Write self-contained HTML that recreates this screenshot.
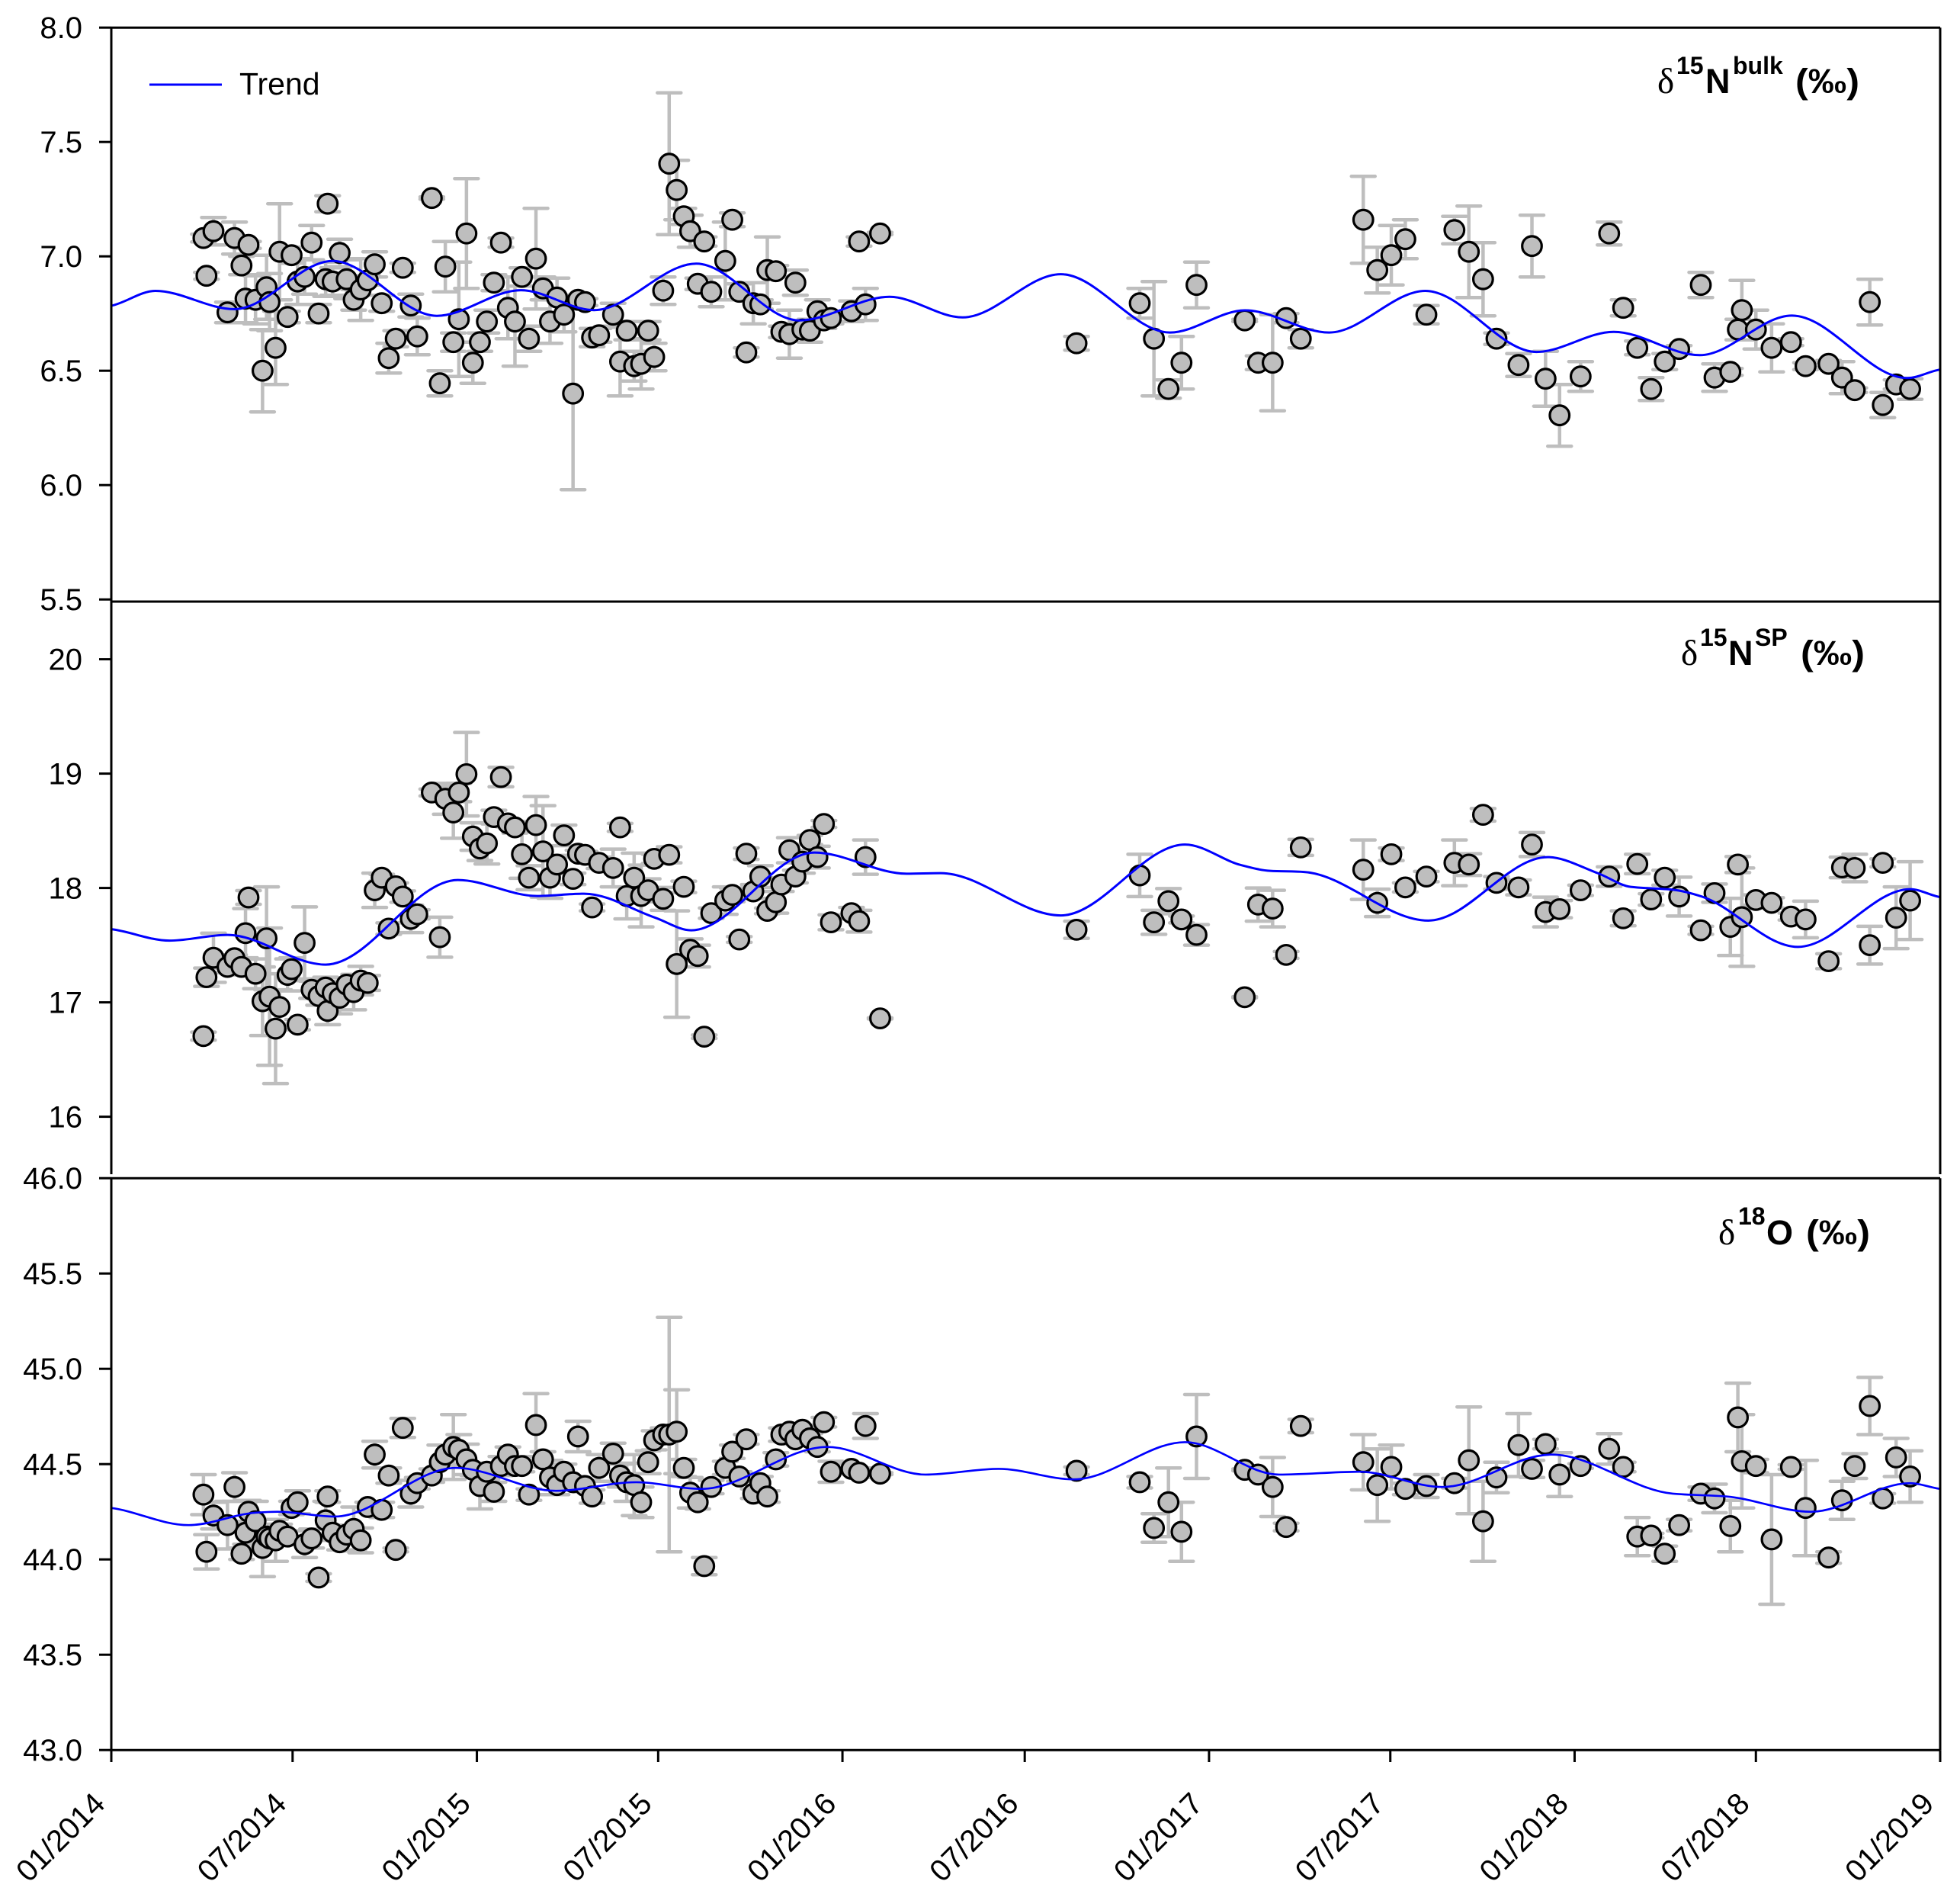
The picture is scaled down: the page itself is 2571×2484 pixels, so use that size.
<!DOCTYPE html>
<html lang="en">
<head>
<meta charset="utf-8">
<title>Isotope time series</title>
<style>
html,body{margin:0;padding:0;background:#fff;}
svg{display:block;font-family:"Liberation Sans",Arial,sans-serif;}
</style>
</head>
<body>
<svg id="chart" xmlns="http://www.w3.org/2000/svg" width="2571" height="2484" viewBox="0 0 2571 2484">
  <rect x="0" y="0" width="2571" height="2484" fill="#fff"/>
  <g id="panels"></g>
  <g>
    <line x1="196" y1="111" x2="291" y2="111" stroke="#0000ff" stroke-width="3"/>
    <text x="314" y="124" font-size="41" fill="#000">Trend</text>
  </g>
  <g fill="#000" font-weight="bold">
    <text x="2174" y="122" font-size="47" font-weight="normal" font-family="Liberation Serif, serif">δ</text>
    <text x="2199" y="97" font-size="32">15</text>
    <text x="2237" y="122" font-size="45">N</text>
    <text x="2273" y="97" font-size="32">bulk</text>
    <text x="2355" y="122" font-size="45" textLength="84" lengthAdjust="spacingAndGlyphs">(‰)</text>
  </g>
  <g fill="#000" font-weight="bold">
    <text x="2205" y="872" font-size="47" font-weight="normal" font-family="Liberation Serif, serif">δ</text>
    <text x="2230" y="847" font-size="32">15</text>
    <text x="2267" y="872" font-size="45">N</text>
    <text x="2302" y="847" font-size="32">SP</text>
    <text x="2362" y="872" font-size="45" textLength="84" lengthAdjust="spacingAndGlyphs">(‰)</text>
  </g>
  <g fill="#000" font-weight="bold">
    <text x="2254" y="1632" font-size="47" font-weight="normal" font-family="Liberation Serif, serif">δ</text>
    <text x="2280" y="1606" font-size="32">18</text>
    <text x="2317" y="1632" font-size="45">O</text>
    <text x="2369" y="1632" font-size="45" textLength="84" lengthAdjust="spacingAndGlyphs">(‰)</text>
  </g>
</svg>
<script>
const sampleDays = [
92,95,102,116,123,130,134,137,144,151,
155,158,164,168,176,180,186,193,200,207,
214,216,221,228,235,242,249,256,263,270,
277,284,291,299,305.5,320,328,333.5,341.5,347,
354.6,361,368,375,382,389,396,403,410,417,
424,431,438,445,452,461,466,473,480,487,
501,508,514.6,522,529,536,542,551,557,564.5,
571.6,578,585.5,592,599,613,620,627,634,641,
648,655,663.5,669,677,683,690,697.5,705,711.5,
718.5,739,746.6,753,767.6,963.7,1026.8,1041,1055.5,1068.5,
1083.5,1131.6,1145,1159.5,1173,1187.6,1250,1264,1278,1292,
1313,1341,1355.4,1369.6,1383,1405,1418.4,1432,1446,1467,
1495.5,1509.5,1523.6,1537.4,1551,1565.4,1587,1600.7,1616.5,1624,
1628,1642,1657.7,1677,1691.6,1714.6,1728,1740.7,1755.7,1768.7,
1782,1796];

const bulkValues = [
7.08,6.915,7.11,6.755,7.08,6.96,6.815,7.05,6.81,6.50,
6.865,6.80,6.60,7.02,6.735,7.005,6.89,6.91,7.06,6.75,
6.90,7.23,6.89,7.015,6.90,6.81,6.855,6.895,6.965,6.795,
6.555,6.64,6.95,6.785,6.65,7.255,6.445,6.955,6.625,6.725,
7.10,6.535,6.625,6.715,6.885,7.06,6.775,6.715,6.91,6.64,
6.99,6.86,6.715,6.82,6.745,6.40,6.81,6.80,6.645,6.655,
6.745,6.54,6.675,6.52,6.53,6.675,6.56,6.85,7.405,7.29,
7.175,7.11,6.88,7.065,6.845,6.98,7.16,6.845,6.58,6.795,
6.79,6.94,6.935,6.67,6.66,6.885,6.68,6.675,6.76,6.72,
6.73,6.76,7.065,6.79,7.10,6.62,6.795,6.64,6.42,6.535,
6.875,6.72,6.535,6.535,6.73,6.64,7.16,6.94,7.005,7.075,
6.745,7.115,7.02,6.90,6.64,6.525,7.045,6.465,6.305,6.475,
7.10,6.775,6.60,6.42,6.54,6.595,6.875,6.47,6.495,6.68,
6.765,6.68,6.60,6.625,6.52,6.53,6.47,6.415,6.80,6.35,
6.44,6.42];
const bulkErrors = [
.017,.015,.06,.045,.07,.04,.105,.015,.105,.18,
.14,.125,.16,.21,.025,.035,.10,.075,.075,.04,
.075,.035,.06,.06,.085,.045,.135,.02,.055,.035,
.065,.035,.02,.05,.08,.005,.055,.11,.04,.25,
.24,.09,.04,.05,.035,.02,.135,.195,.04,.055,
.22,.05,.095,.085,.075,.42,.02,.015,.04,.03,
.05,.15,.04,.065,.11,.04,.06,.06,.31,.13,
.035,.07,.025,.02,.065,.17,.03,.035,.02,.09,
.02,.145,.025,.025,.105,.055,.035,.05,.05,.035,
.025,.045,.02,.07,.005,.03,.065,.25,.04,.115,
.10,.005,.03,.21,.02,.04,.19,.10,.13,.085,
.04,.06,.20,.16,.025,.05,.135,.12,.135,.065,
.05,.035,.03,.05,.035,.015,.055,.06,.015,.045,
.13,.085,.105,.015,.015,.015,.07,.01,.10,.055,
.02,.045];
const bulkTrendDays = [0,44,123,221,325,409,482,584,687,777,850,948,1057,1132,1216,1312,1423,1500,1586,1678,1793,1826];
const bulkTrendValues = [6.784,6.849,6.769,6.98,6.74,6.852,6.765,6.968,6.72,6.823,6.733,6.922,6.667,6.764,6.667,6.849,6.582,6.67,6.568,6.741,6.468,6.505];
const bulkTicks = [8.0,7.5,7.0,6.5,6.0,5.5];
const bulkTickLabels = ["8.0","7.5","7.0","6.5","6.0","5.5"];

const spValues = [
16.705,17.22,17.39,17.31,17.386,17.31,17.605,17.917,17.25,17.01,
17.56,17.05,16.77,16.96,17.24,17.29,16.805,17.52,17.11,17.055,
17.13,16.925,17.08,17.04,17.155,17.09,17.19,17.17,17.98,18.09,
17.645,18.015,17.925,17.73,17.77,18.835,17.57,18.78,18.66,18.835,
18.995,18.45,18.345,18.39,18.62,18.97,18.565,18.53,18.295,18.09,
18.55,18.32,18.09,18.205,18.46,18.08,18.30,18.29,17.83,18.22,
18.175,18.53,17.93,18.09,17.93,17.98,18.255,17.905,18.29,17.335,
18.01,17.46,17.405,16.70,17.78,17.89,17.94,17.55,18.30,17.97,
18.10,17.80,17.875,18.03,18.33,18.10,18.23,18.42,18.27,18.56,
17.70,17.78,17.71,18.27,16.86,17.635,18.11,17.70,17.885,17.725,
17.59,17.045,17.855,17.82,17.415,18.355,18.16,17.87,18.295,18.005,
18.10,18.22,18.205,18.64,18.045,18.005,18.38,17.79,17.815,17.98,
18.10,17.735,18.21,17.90,18.09,17.925,17.63,17.955,17.66,18.205,
17.745,17.895,17.87,17.75,17.725,17.36,18.18,18.175,17.50,18.22,
17.74,17.89];
const spErrors = [
.035,.08,.215,.05,.03,.07,.215,.06,.13,.30,
.45,.60,.48,.15,.14,.10,.045,.315,.075,.08,
.09,.12,.07,.14,.06,.155,.125,.065,.15,.03,
.05,.03,.05,.12,.04,.03,.175,.135,.225,.08,
.365,.12,.105,.18,.06,.085,.03,.05,.21,.105,
.25,.40,.18,.08,.09,.05,.03,.03,.03,.05,
.165,.035,.20,.215,.27,.10,.04,.10,.07,.465,
.05,.095,.095,.015,.045,.12,.06,.025,.05,.06,
.095,.025,.095,.06,.11,.055,.10,.04,.095,.03,
.065,.05,.095,.15,.005,.075,.185,.105,.11,.03,
.09,.005,.145,.16,.03,.07,.26,.12,.055,.04,
.045,.20,.095,.055,.055,.065,.105,.13,.075,.045,
.085,.065,.085,.05,.065,.17,.035,.08,.25,.07,
.43,.045,.045,.03,.16,.065,.09,.12,.165,.035,
.27,.34];
const spTrendDays = [0,58,116,214,346,425,472,543,579,702,794,828,948,1072,1128,1157,1191,1315,1434,1484,1517,1559,1588,1684,1796,1826];
const spTrendValues = [17.64,17.54,17.59,17.33,18.07,17.93,17.95,17.74,17.63,18.31,18.125,18.13,17.76,18.38,18.2,18.15,18.14,17.715,18.27,18.13,18.01,17.985,17.925,17.485,17.99,17.92];
const spTicks = [20,19,18,17,16];
const spTickLabels = ["20","19","18","17","16"];

const oxyValues = [
44.34,44.04,44.23,44.18,44.38,44.03,44.14,44.25,44.20,44.06,
44.12,44.11,44.10,44.15,44.12,44.27,44.30,44.08,44.11,43.905,
44.205,44.33,44.14,44.09,44.13,44.16,44.10,44.275,44.55,44.26,
44.44,44.05,44.69,44.345,44.40,44.44,44.51,44.55,44.59,44.575,
44.525,44.47,44.385,44.46,44.355,44.49,44.55,44.49,44.49,44.34,
44.705,44.525,44.43,44.39,44.46,44.405,44.645,44.385,44.33,44.48,
44.555,44.44,44.405,44.39,44.30,44.51,44.625,44.655,44.655,44.67,
44.48,44.35,44.30,43.965,44.38,44.48,44.565,44.435,44.63,44.345,
44.40,44.33,44.525,44.655,44.67,44.63,44.68,44.635,44.59,44.72,
44.46,44.475,44.455,44.70,44.45,44.465,44.405,44.165,44.30,44.145,
44.645,44.47,44.445,44.38,44.17,44.70,44.51,44.39,44.485,44.37,
44.385,44.40,44.52,44.20,44.43,44.60,44.475,44.605,44.445,44.49,
44.58,44.485,44.12,44.125,44.03,44.18,44.345,44.32,44.175,44.745,
44.515,44.49,44.105,44.485,44.27,44.01,44.31,44.49,44.805,44.32,
44.535,44.435];
const oxyErrors = [
.105,.09,.07,.125,.075,.03,.06,.06,.105,.15,
.04,.04,.11,.035,.03,.035,.06,.07,.05,.02,
.10,.03,.04,.04,.05,.115,.065,.025,.07,.04,
.04,.01,.05,.07,.03,.035,.09,.05,.17,.08,
.08,.03,.12,.04,.05,.05,.04,.03,.03,.03,
.165,.04,.09,.05,.04,.03,.08,.03,.035,.07,
.055,.06,.10,.16,.08,.06,.05,.035,.615,.22,
.045,.08,.035,.045,.035,.035,.035,.025,.025,.025,
.035,.03,.035,.035,.025,.025,.025,.025,.025,.025,
.055,.025,.025,.065,.005,.02,.03,.075,.18,.155,
.22,.005,.012,.155,.02,.035,.145,.19,.115,.03,
.06,.025,.28,.21,.08,.165,.045,.025,.115,.012,
.08,.025,.10,.012,.04,.03,.035,.075,.135,.18,
.245,.035,.34,.012,.25,.03,.10,.065,.15,.025,
.10,.135];
const oxyTrendDays = [0,77,144,166,223,344,444,524,589,715,813,886,961,1072,1166,1246,1329,1438,1559,1613,1697,1796,1826];
const oxyTrendValues = [44.27,44.18,44.245,44.25,44.225,44.48,44.36,44.405,44.37,44.59,44.445,44.475,44.42,44.615,44.445,44.46,44.38,44.55,44.345,44.33,44.25,44.40,44.37];
const oxyTicks = [46.0,45.5,45.0,44.5,44.0,43.5,43.0];
const oxyTickLabels = ["46.0","45.5","45.0","44.5","44.0","43.5","43.0"];

const xTickDays = [0,181,365,546,730,912,1096,1277,1461,1642,1826];
const xTickLabels = ["01/2014","07/2014","01/2015","07/2015","01/2016","07/2016","01/2017","07/2017","01/2018","07/2018","01/2019"];

const SVG_NS = "http://www.w3.org/2000/svg";
const root = document.getElementById("panels");
const plotLeft = 146;
const plotRight = 2545;
const dayMax = 1826;
function xScale(day) { return plotLeft + (day / dayMax) * (plotRight - plotLeft); }

function make(tag, attrs, parent) {
  const el = document.createElementNS(SVG_NS, tag);
  for (const k in attrs) el.setAttribute(k, attrs[k]);
  parent.appendChild(el);
  return el;
}

function smoothPath(days, values, yScale) {
  const n = days.length, px = days.map(xScale), py = values.map(yScale);
  const h = [], s = [], m = [];
  for (let i = 0; i < n - 1; i++) { h[i] = px[i+1] - px[i]; s[i] = (py[i+1] - py[i]) / h[i]; }
  m[0] = s[0] * 0.6;
  m[n-1] = s[n-2] * 0.6;
  for (let i = 1; i < n - 1; i++) {
    m[i] = s[i-1] * s[i] <= 0 ? 0 : 2 * s[i-1] * s[i] / (s[i-1] + s[i]);
  }
  let d = "M" + px[0].toFixed(2) + " " + py[0].toFixed(2);
  for (let i = 0; i < n - 1; i++) {
    const c = h[i] / 3;
    d += "C" + (px[i]+c).toFixed(2) + " " + (py[i]+m[i]*c).toFixed(2) + " " +
         (px[i+1]-c).toFixed(2) + " " + (py[i+1]-m[i+1]*c).toFixed(2) + " " +
         px[i+1].toFixed(2) + " " + py[i+1].toFixed(2);
  }
  return d;
}

function drawPanel(name, cfg) {
  const yScale = v => cfg.yTop + (cfg.vTop - v) * cfg.pxPerUnit;
  const g = make("g", {}, root);
  
  

  cfg.values.forEach((v, i) => {
    const x = xScale(sampleDays[i]);
    const e = cfg.errors[i];
    const bar = make("path", {
      d: "M" + x + " " + yScale(v + e) + "V" + yScale(v - e) +
         "M" + (x - 15.5) + " " + yScale(v + e) + "H" + (x + 15.5) +
         "M" + (x - 15.5) + " " + yScale(v - e) + "H" + (x + 15.5),
      fill: "none", stroke: "#bebebe", "stroke-width": 4.5, "stroke-linecap": "round"
    }, g);
    
    
  });
  cfg.values.forEach((v, i) => {
    const dot = make("circle", {
      cx: xScale(sampleDays[i]), cy: yScale(v), r: 12.8,
      fill: "#bebebe", stroke: "#000", "stroke-width": 3.2
    }, g);
    
    
  });
  const trend = make("path", {
    d: smoothPath(cfg.trendDays, cfg.trendValues, yScale),
    fill: "none", stroke: "#0000ff", "stroke-width": cfg.trendWidth
  }, g);
  
  

  cfg.ticks.forEach((t, i) => {
    const y = yScale(t);
    const tick = make("line", { x1: 130, y1: y, x2: plotLeft, y2: y, stroke: "#000", "stroke-width": 3 }, g);
    
    
    const lab = make("text", { x: 108, y: y + 14, "font-size": 40, "text-anchor": "end", fill: "#000" }, g);
    lab.textContent = cfg.tickLabels[i];
    
    
  });

  const frame = make("path", {
    d: "M" + plotLeft + " " + cfg.lineTop + "H" + plotRight +
       "M" + plotLeft + " " + cfg.lineTop + "V" + cfg.axisBottom +
       "M" + plotRight + " " + cfg.lineTop + "V" + cfg.axisBottom,
    fill: "none", stroke: "#000", "stroke-width": 3
  }, g);
  
  
}

drawPanel("d15n-bulk", {
  yTop: 36.2, vTop: 8, pxPerUnit: 300, lineTop: 36.2, axisBottom: 789, trendWidth: 3,
  values: bulkValues, errors: bulkErrors, trendDays: bulkTrendDays, trendValues: bulkTrendValues,
  ticks: bulkTicks, tickLabels: bulkTickLabels
});
drawPanel("d15n-sp", {
  yTop: 864.6, vTop: 20, pxPerUnit: 150, lineTop: 789, axisBottom: 1540, trendWidth: 3,
  values: spValues, errors: spErrors, trendDays: spTrendDays, trendValues: spTrendValues,
  ticks: spTicks, tickLabels: spTickLabels
});
drawPanel("d18o", {
  yTop: 1545.2, vTop: 46, pxPerUnit: 250, lineTop: 1545.2, axisBottom: 2295.2, trendWidth: 2.7,
  values: oxyValues, errors: oxyErrors, trendDays: oxyTrendDays, trendValues: oxyTrendValues,
  ticks: oxyTicks, tickLabels: oxyTickLabels
});

const xAxis = make("g", {}, root);


const xLine = make("line", { x1: plotLeft, y1: 2295.2, x2: plotRight, y2: 2295.2, stroke: "#000", "stroke-width": 3 }, xAxis);


xTickDays.forEach((day, i) => {
  const x = xScale(day);
  const tick = make("line", { x1: x, y1: 2295.2, x2: x, y2: 2311, stroke: "#000", "stroke-width": 3 }, xAxis);
  
  
  const ax = x - 6, ay = 2368;
  const lab = make("text", {
    x: ax, y: ay, "font-size": 40, "text-anchor": "end", fill: "#000",
    transform: "rotate(-45 " + ax + " " + ay + ")"
  }, xAxis);
  lab.textContent = xTickLabels[i];
  
  
});
</script>
</body>
</html>
